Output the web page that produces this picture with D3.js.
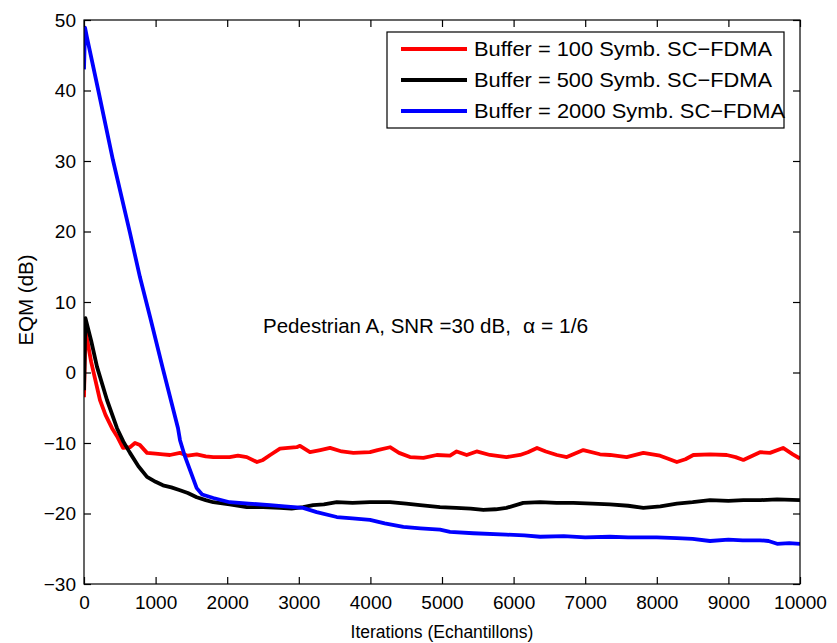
<!DOCTYPE html>
<html><head><meta charset="utf-8">
<script src="https://cdn.jsdelivr.net/npm/d3@7/dist/d3.min.js"></script>
<style>body{margin:0;background:#fff}svg{display:block;font-family:"Liberation Sans",Arial,sans-serif}</style>
</head><body><svg id="c" width="837" height="643"></svg>
<script>
const xTicks = [0,1000,2000,3000,4000,5000,6000,7000,8000,9000,10000];
const yTicks = [-30,-20,-10,0,10,20,30,40,50];
const seriesNames = ["Buffer = 100 Symb. SC\u2212FDMA","Buffer = 500 Symb. SC\u2212FDMA","Buffer = 2000 Symb. SC\u2212FDMA"];
const seriesColors = ["#ff0000","#000000","#0000ff"];

const redX = [0,20,100,223,300,391,470,545,642,712,782,880,1000,1103,1200,1341,1450,1574,1700,1806,2034,2150,2274,2416,2500,2600,2737,2850,2970,3017,3156,3300,3436,3600,3762,3994,4100,4274,4400,4553,4740,4927,5112,5205,5345,5484,5670,5900,6090,6200,6327,6450,6605,6743,6974,7207,7346,7579,7812,8045,8150,8280,8400,8510,8743,8977,9100,9209,9441,9581,9763,9900,10000];
const redY = [-3.5,6,1.5,-3.9,-6,-7.9,-9.2,-10.7,-10.6,-10.0,-10.3,-11.4,-11.5,-11.6,-11.7,-11.4,-11.8,-11.6,-11.9,-12.0,-12.0,-11.8,-12.0,-12.7,-12.4,-11.7,-10.8,-10.7,-10.6,-10.4,-11.3,-11.0,-10.7,-11.2,-11.4,-11.3,-11.0,-10.6,-11.4,-12.0,-12.1,-11.7,-11.8,-11.2,-11.7,-11.2,-11.7,-12.0,-11.7,-11.3,-10.7,-11.2,-11.7,-12.0,-11.0,-11.6,-11.7,-12.0,-11.4,-11.8,-12.2,-12.7,-12.3,-11.7,-11.6,-11.7,-12.0,-12.4,-11.3,-11.4,-10.7,-11.6,-12.2];

const blackX = [0,20,100,182,321,461,550,642,760,880,1000,1103,1220,1341,1450,1574,1700,1806,2034,2274,2500,2737,2900,3060,3200,3350,3530,3750,3994,4274,4500,4693,4972,5200,5400,5577,5750,5900,6135,6370,6600,6834,7100,7346,7600,7812,8050,8280,8500,8743,9000,9209,9450,9680,10000];
const blackY = [-2.5,7.7,4.5,0.8,-3.9,-7.9,-9.8,-11.4,-13.3,-14.8,-15.5,-16.0,-16.3,-16.7,-17.1,-17.7,-18.1,-18.4,-18.7,-19.1,-19.1,-19.2,-19.3,-19.1,-18.8,-18.7,-18.4,-18.5,-18.4,-18.4,-18.6,-18.8,-19.1,-19.2,-19.3,-19.5,-19.4,-19.2,-18.5,-18.4,-18.5,-18.5,-18.6,-18.7,-18.9,-19.2,-19.0,-18.6,-18.4,-18.1,-18.2,-18.1,-18.1,-18.0,-18.1];

const blueX = [0,15,42,200,405,642,782,922,1100,1313,1341,1400,1450,1574,1650,1806,2034,2300,2598,2800,3060,3250,3530,3750,3994,4200,4460,4700,4972,5112,5438,5900,6150,6370,6700,7000,7346,7600,8000,8280,8500,8743,9000,9200,9441,9560,9680,9850,10000];
const blueY = [43,48.9,47.5,40,30.1,19.8,13.5,7.9,0.6,-7.9,-9.6,-11.6,-13.0,-16.4,-17.3,-17.8,-18.4,-18.6,-18.8,-19.0,-19.2,-19.8,-20.5,-20.7,-20.9,-21.4,-21.9,-22.1,-22.3,-22.6,-22.8,-23.0,-23.1,-23.3,-23.2,-23.4,-23.3,-23.4,-23.4,-23.5,-23.6,-23.9,-23.7,-23.8,-23.8,-23.9,-24.3,-24.2,-24.3];

const annotationA = "Pedestrian A, SNR =30 dB,";
const annotationB = "\u03b1 = 1/6";
const xLabel = "Iterations (Echantillons)";
const yLabel = "EQM (dB)";

const L=84, R=800, T=20, B=584;
const svg = d3.select("#c");
const x = d3.scaleLinear().domain([0,10000]).range([L,R]);
const y = d3.scaleLinear().domain([-30,50]).range([B,T]);

// series
const series = [[redX,redY],[blackX,blackY],[blueX,blueY]];
const line = d3.line().x(d=>x(d[0])).y(d=>y(d[1]));
svg.append("clipPath").attr("id","cp").append("rect").attr("x",L).attr("y",T).attr("width",R-L).attr("height",B-T);
series.forEach((s,i)=>{
  const pts = s[0].map((v,j)=>[v,s[1][j]]);
  svg.append("path").datum(pts).attr("d",line).attr("fill","none")
    .attr("stroke",seriesColors[i]).attr("stroke-width",3.8).attr("stroke-linejoin","round").attr("clip-path","url(#cp)");
});

// axes
const tl = 7;
const ax = svg.append("g").attr("fill","none").attr("stroke","#000").attr("stroke-width",1.2);
ax.append("rect").attr("x",L).attr("y",T).attr("width",R-L).attr("height",B-T);
const gB = svg.append("g").attr("transform",`translate(0,${B})`).call(d3.axisBottom(x).tickValues(xTicks).tickSize(-tl).tickPadding(12).tickFormat(d3.format("d")));
const gT = svg.append("g").attr("transform",`translate(0,${T})`).call(d3.axisTop(x).tickValues(xTicks).tickSize(-tl).tickFormat(""));
const gL = svg.append("g").attr("transform",`translate(${L},0)`).call(d3.axisLeft(y).tickValues(yTicks).tickSize(-tl).tickPadding(8).tickFormat(d=>d<0?"\u2212"+Math.abs(d):d));
const gR = svg.append("g").attr("transform",`translate(${R},0)`).call(d3.axisRight(y).tickValues(yTicks).tickSize(-tl).tickFormat(""));
[gB,gT,gL,gR].forEach(g=>{g.select(".domain").remove();g.selectAll("line").attr("stroke","#000").attr("stroke-width",1.2);
  g.selectAll("text").attr("font-size",19).attr("fill","#000").attr("font-family","Liberation Sans, Arial, sans-serif");});

// labels
svg.append("text").attr("x",(L+R)/2).attr("y",638).attr("text-anchor","middle").attr("font-size",17.5).text(xLabel);
svg.append("text").attr("transform",`translate(33,300) rotate(-90)`).attr("text-anchor","middle").attr("font-size",20.5).text(yLabel);
svg.append("text").attr("x",263).attr("y",333).attr("font-size",20.5).text(annotationA);
svg.append("text").attr("x",523).attr("y",333).attr("font-size",21).text(annotationB);

// legend
const lg = svg.append("g");
lg.append("rect").attr("x",387).attr("y",32).attr("width",397).attr("height",96).attr("fill","#fff").attr("stroke","#000").attr("stroke-width",1.2);
const legendLen = [298, 298, 311];
seriesNames.forEach((n,i)=>{
  const yy = 49 + i*31;
  lg.append("line").attr("x1",401).attr("x2",467).attr("y1",yy).attr("y2",yy).attr("stroke",seriesColors[i]).attr("stroke-width",4);
  lg.append("text").attr("x",474).attr("y",yy+7).attr("font-size",21).attr("textLength",legendLen[i]).attr("lengthAdjust","spacingAndGlyphs").text(n);
});
</script></body></html>
